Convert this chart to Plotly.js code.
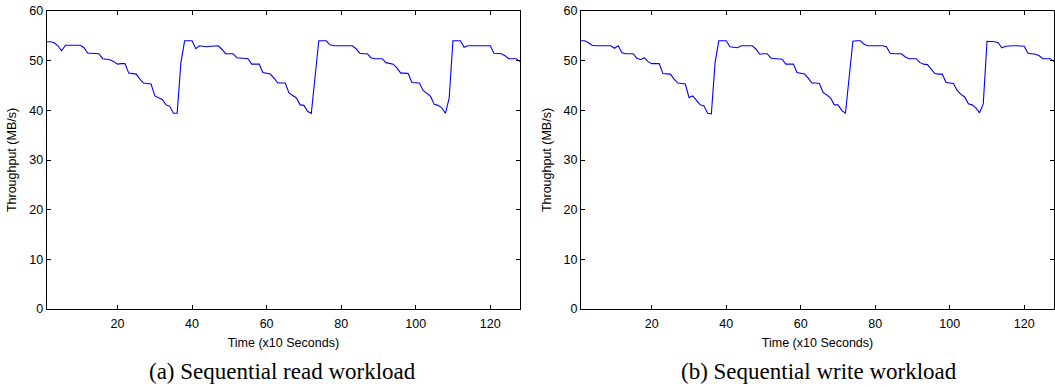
<!DOCTYPE html>
<html><head><meta charset="utf-8">
<script src="https://cdn.plot.ly/plotly-3.0.1.min.js"></script>
<style>html,body{margin:0;padding:0;background:#fff}</style>
</head><body><div id="chart" style="width:1055px;height:387px"></div>
<script>
const timeSteps = [1,2,3,4,5,6,7,8,9,10,11,12,13,14,15,16,17,18,19,20,21,22,23,24,25,26,27,28,29,30,
31,32,33,34,35,36,37,38,39,40,41,42,43,44,45,46,47,48,49,50,51,52,53,54,55,56,57,58,59,60,
61,62,63,64,65,66,67,68,69,70,71,72,73,74,75,76,77,78,79,80,81,82,83,84,85,86,87,88,89,90,
91,92,93,94,95,96,97,98,99,100,101,102,103,104,105,106,107,108,109,110,111,112,113,114,115,116,117,118,119,120,
121,122,123,124,125,126,127,128];

const readThroughput = [
53.8,53.8,53.6,53.0,52.0,53.1,53.1,53.1,53.1,53.1,
52.6,51.5,51.5,51.4,51.4,50.4,50.3,50.2,49.8,49.3,
49.4,49.4,47.5,47.4,47.3,46.3,45.5,45.4,45.3,42.9,
42.6,42.2,41.1,40.8,39.4,39.4,49.6,54.0,54.0,54.0,
52.4,53.0,52.9,52.8,52.9,53.0,53.0,52.3,51.4,51.4,
51.4,50.6,50.5,50.4,50.4,49.3,49.3,49.3,47.6,47.5,
47.3,46.5,45.5,45.5,45.5,43.5,43.0,42.5,41.1,41.0,
39.8,39.4,46.7,54.0,54.0,54.0,53.2,53.0,53.0,53.0,
53.0,53.0,53.0,52.4,51.5,51.4,51.4,50.6,50.4,50.4,
50.4,49.6,49.4,49.3,48.5,47.5,47.5,47.4,45.6,45.5,
45.5,44.0,43.3,42.8,41.2,41.0,40.5,39.4,42.5,54.0,
54.0,54.0,52.7,53.0,53.0,53.0,53.0,53.0,53.0,53.0,
51.5,51.4,51.4,51.0,50.4,50.4,50.4,49.8];

const writeThroughput = [
54.0,54.0,53.6,53.1,53.0,53.0,53.0,53.0,53.0,52.5,
53.0,51.6,51.4,51.4,51.4,50.5,50.2,50.6,49.8,49.4,
49.4,49.4,47.4,47.3,47.3,46.3,45.5,45.4,45.3,42.6,
42.9,42.0,41.1,40.9,39.4,39.3,49.6,54.0,54.0,54.0,
52.8,52.7,52.6,53.0,53.0,53.0,53.0,52.3,51.3,51.4,
51.4,50.5,50.4,50.4,50.3,49.3,49.3,49.3,47.6,47.4,
47.3,46.5,45.5,45.5,45.4,43.6,43.0,42.5,41.1,41.1,
40.0,39.4,46.7,53.9,54.0,54.0,53.3,53.0,53.0,53.0,
53.0,53.0,52.8,51.5,51.4,51.4,51.4,50.8,50.4,50.4,
50.4,49.6,49.3,49.2,48.3,47.4,47.3,47.3,45.6,45.5,
45.4,44.0,43.2,42.7,41.3,41.1,40.5,39.5,41.3,53.9,
53.9,53.8,53.6,52.6,52.9,53.0,53.0,53.0,52.9,52.9,
51.5,51.4,51.3,51.0,50.4,50.4,50.4,49.8];

const xTickValues = [20,40,60,80,100,120];
const yTickValues = [0,10,20,30,40,50,60];
const xTitle = 'Time (x10 Seconds)';
const yTitle = 'Throughput (MB/s)';
const captions = ['(a) Sequential read workload', '(b) Sequential write workload'];

const sans = 'Liberation Sans, Arial, sans-serif';
const lineStyle = {color:'#0000ff', width:1.1};

const traces = [
  {x: timeSteps, y: readThroughput, type:'scatter', mode:'lines', line: lineStyle, xaxis:'x', yaxis:'y', hoverinfo:'skip'},
  {x: timeSteps, y: writeThroughput, type:'scatter', mode:'lines', line: lineStyle, xaxis:'x2', yaxis:'y2', hoverinfo:'skip'}
];

function xAxis(domain, anchor){
  return {domain: domain, anchor: anchor, range:[1,128], tickvals: xTickValues,
    showline:true, linecolor:'#000', linewidth:1, mirror:'ticks', ticks:'inside', ticklen:4, tickcolor:'#000',
    ticklabelstandoff:3,
    showgrid:false, zeroline:false, tickfont:{family:sans, size:12.5, color:'#000'},
    title:{text:xTitle, font:{family:sans, size:12.5, color:'#000'}, standoff:8}};
}
function yAxis(anchor){
  return {domain:[0,1], anchor: anchor, range:[0,60], tickvals: yTickValues,
    showline:true, linecolor:'#000', linewidth:1, mirror:'ticks', ticks:'inside', ticklen:4, tickcolor:'#000',
    showgrid:false, zeroline:false, tickfont:{family:sans, size:12.5, color:'#000'},
    title:{text:yTitle, font:{family:sans, size:12.5, color:'#000'}, standoff:9}};
}

const layout = {
  width:1055, height:387,
  margin:{l:0, r:0, t:11, b:78, pad:0},
  paper_bgcolor:'#fff', plot_bgcolor:'#fff',
  showlegend:false,
  xaxis: xAxis([0.0443,0.4929],'y'),
  yaxis: yAxis('x'),
  xaxis2: xAxis([0.5507,0.9991],'y2'),
  yaxis2: yAxis('x2'),
  annotations: [
    {text: captions[0], xref:'paper', yref:'paper', x:0.268, y:-0.21, xanchor:'center', yanchor:'middle', showarrow:false,
     font:{family:'Liberation Serif, Times New Roman, serif', size:23, color:'#000'}},
    {text: captions[1], xref:'paper', yref:'paper', x:0.776, y:-0.21, xanchor:'center', yanchor:'middle', showarrow:false,
     font:{family:'Liberation Serif, Times New Roman, serif', size:23, color:'#000'}}
  ]
};

Plotly.newPlot('chart', traces, layout, {displayModeBar:false, staticPlot:true});
</script></body></html>
